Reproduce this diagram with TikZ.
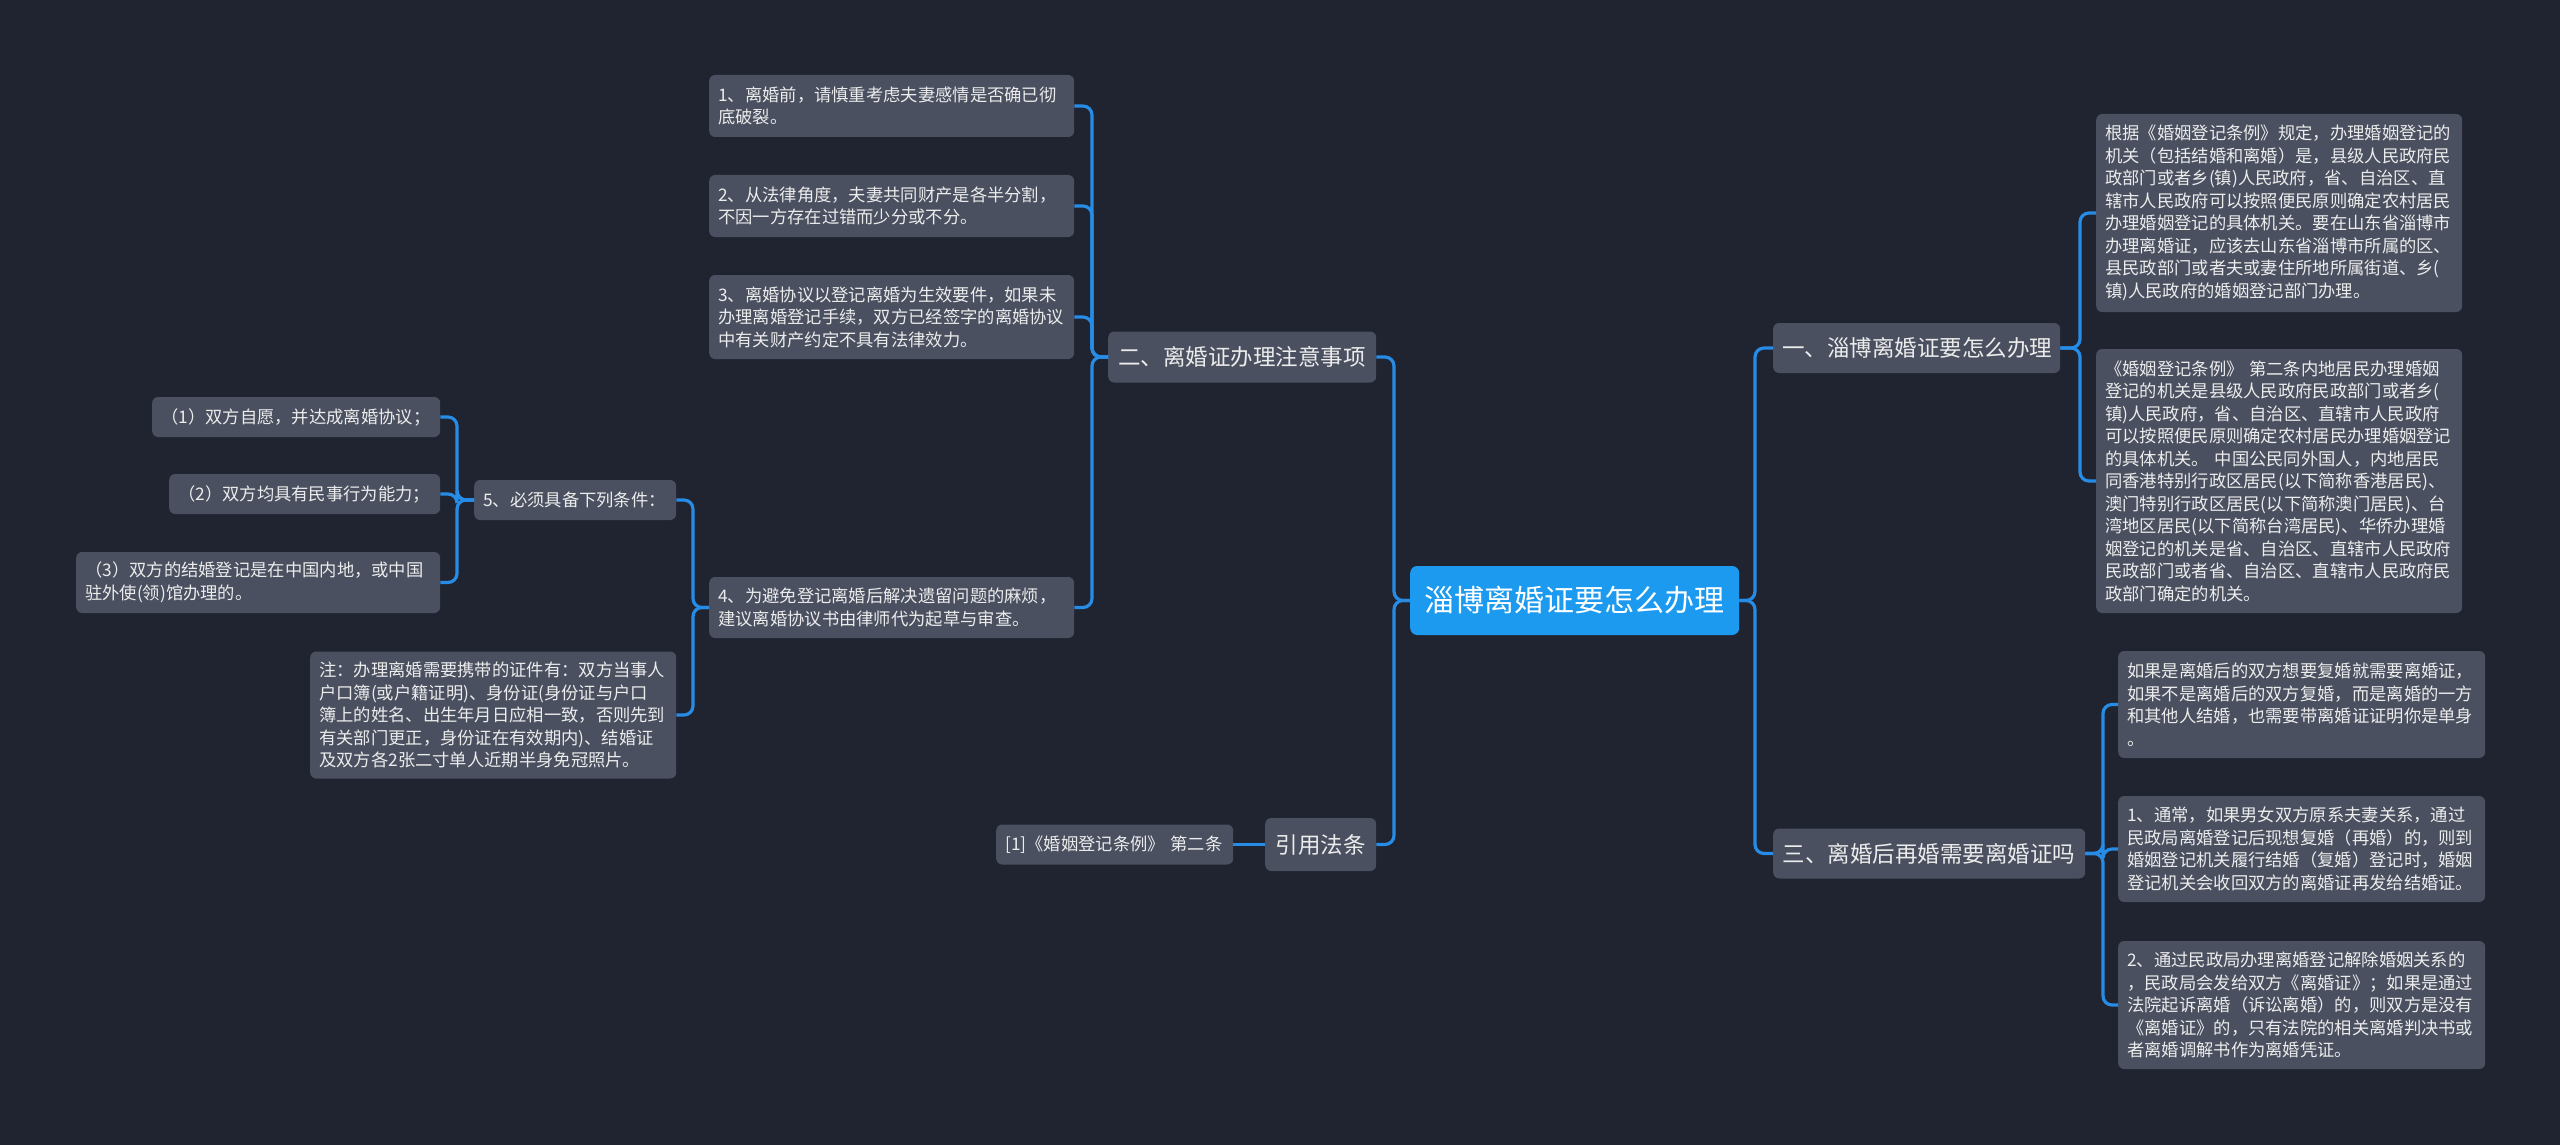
\documentclass[tikz,border=0pt]{standalone}
\usepackage{fontspec}
\setmainfont{Noto Sans CJK SC}
\definecolor{bgc}{RGB}{32,36,48}
\definecolor{nodec}{RGB}{74,80,96}
\definecolor{connc}{RGB}{38,140,230}
\definecolor{rootc}{RGB}{27,154,240}
\definecolor{txtc}{RGB}{236,236,236}
\newcommand\myfs{\fontsize{17.3}{22.5}\selectfont}
\newcommand\myfb{\fontsize{22.5}{27}\selectfont}
\newcommand\myfr{\fontsize{30}{36}\selectfont}
\begin{document}
\begin{tikzpicture}[x=1pt,y=-1pt,
  box/.style={fill=nodec, text=txtc, rounded corners=6pt, inner xsep=9pt, inner ysep=2pt, font=\myfs, align=left, anchor=west},
  bbox/.style={fill=nodec, text=txtc, rounded corners=6pt, inner xsep=9pt, inner ysep=2pt, font=\myfb, align=center, anchor=west, minimum height=51pt},
  rootbox/.style={fill=rootc, text=white, rounded corners=7pt, inner xsep=14.5pt, inner ysep=2pt, font=\myfr, align=center, anchor=west, minimum height=69pt},
  conn/.style={draw=connc, line width=3.2pt, rounded corners=9pt}
]
\fill[bgc] (0,0) rectangle (2560,1145);

% root
\node[rootbox, text width=300pt] (root) at (1410,600.5) {淄博离婚证要怎么办理};

% level 1
\node[bbox, text width=250pt] (b2) at (1108,357) {二、离婚证办理注意事项};
\node[bbox, text width=93pt, minimum height=53pt] (cite) at (1265,844.5) {引用法条};
\node[bbox, text width=269pt, minimum height=50pt] (b1) at (1773,348) {一、淄博离婚证要怎么办理};
\node[bbox, text width=294pt, minimum height=50pt] (b3) at (1773,853.5) {三、离婚后再婚需要离婚证吗};

% children of 二
\node[box, text width=347pt, minimum height=62pt] (c1) at (709,106) {1、离婚前，请慎重考虑夫妻感情是否确已彻\\底破裂。};
\node[box, text width=347pt, minimum height=62pt] (c2) at (709,206) {2、从法律角度，夫妻共同财产是各半分割，\\不因一方存在过错而少分或不分。};
\node[box, text width=347pt, minimum height=84pt] (c3) at (709,317) {3、离婚协议以登记离婚为生效要件，如果未\\办理离婚登记手续，双方已经签字的离婚协议\\中有关财产约定不具有法律效力。};
\node[box, text width=347pt, minimum height=61pt] (c4) at (709,607.5) {4、为避免登记离婚后解决遗留问题的麻烦，\\建议离婚协议书由律师代为起草与审查。};

% children of c4
\node[box, text width=184pt, minimum height=40pt] (c5) at (474,500) {5、必须具备下列条件：};
\node[box, text width=348pt, minimum height=127pt] (note) at (310,715) {注：办理离婚需要携带的证件有：双方当事人\\户口簿(或户籍证明)、身份证(身份证与户口\\簿上的姓名、出生年月日应相一致，否则先到\\有关部门更正，身份证在有效期内)、结婚证\\及双方各2张二寸单人近期半身免冠照片。};

% children of c5
\node[box, text width=270pt, minimum height=40pt] (s1) at (152,417) {（1）双方自愿，并达成离婚协议；};
\node[box, text width=253pt, minimum height=40pt] (s2) at (169,494) {（2）双方均具有民事行为能力；};
\node[box, text width=346pt, minimum height=61pt] (s3) at (76,582.5) {（3）双方的结婚登记是在中国内地，或中国\\驻外使(领)馆办理的。};

% child of 引用法条
\node[box, text width=219pt, minimum height=40pt] (ref) at (996,844.5) {[1]《婚姻登记条例》 第二条};

% children of 一
\node[box, text width=348pt, minimum height=198pt] (r1) at (2096,213) {根据《婚姻登记条例》规定，办理婚姻登记的\\机关（包括结婚和离婚）是，县级人民政府民\\政部门或者乡(镇)人民政府，省、自治区、直\\辖市人民政府可以按照便民原则确定农村居民\\办理婚姻登记的具体机关。要在山东省淄博市\\办理离婚证，应该去山东省淄博市所属的区、\\县民政部门或者夫或妻住所地所属街道、乡(\\镇)人民政府的婚姻登记部门办理。};
\node[box, text width=348pt, minimum height=264pt] (r2) at (2096,481) {《婚姻登记条例》 第二条内地居民办理婚姻\\登记的机关是县级人民政府民政部门或者乡(\\镇)人民政府，省、自治区、直辖市人民政府\\可以按照便民原则确定农村居民办理婚姻登记\\的具体机关。 中国公民同外国人，内地居民\\同香港特别行政区居民(以下简称香港居民)、\\澳门特别行政区居民(以下简称澳门居民)、台\\湾地区居民(以下简称台湾居民)、华侨办理婚\\姻登记的机关是省、自治区、直辖市人民政府\\民政部门或者省、自治区、直辖市人民政府民\\政部门确定的机关。};

% children of 三
\node[box, text width=349pt, minimum height=107pt] (r3) at (2118,704.5) {如果是离婚后的双方想要复婚就需要离婚证，\\如果不是离婚后的双方复婚，而是离婚的一方\\和其他人结婚，也需要带离婚证证明你是单身\\。};
\node[box, text width=349pt, minimum height=106pt] (r4) at (2118,849) {1、通常，如果男女双方原系夫妻关系，通过\\民政局离婚登记后现想复婚（再婚）的，则到\\婚姻登记机关履行结婚（复婚）登记时，婚姻\\登记机关会收回双方的离婚证再发给结婚证。};
\node[box, text width=349pt, minimum height=128pt] (r5) at (2118,1005) {2、通过民政局办理离婚登记解除婚姻关系的\\，民政局会发给双方《离婚证》；如果是通过\\法院起诉离婚（诉讼离婚）的，则双方是没有\\《离婚证》的，只有法院的相关离婚判决书或\\者离婚调解书作为离婚凭证。};

% trunk coordinates
\coordinate (tL) at (1394,0);
\coordinate (tR) at (1755,0);
\coordinate (t2) at (1092,0);
\coordinate (t4) at (693,0);
\coordinate (t5) at (457,0);
\coordinate (t1) at (2080,0);
\coordinate (t3) at (2103,0);

% connectors
\draw[conn] (root.west) -- (root.west -| tL) |- (b2.east);
\draw[conn] (root.west) -- (root.west -| tL) |- (cite.east);
\draw[conn] (root.east) -- (root.east -| tR) |- (b1.west);
\draw[conn] (root.east) -- (root.east -| tR) |- (b3.west);

\foreach \c in {c1,c2,c3,c4}
  \draw[conn] (b2.west) -- (b2.west -| t2) |- (\c.east);
\foreach \c in {c5,note}
  \draw[conn] (c4.west) -- (c4.west -| t4) |- (\c.east);
\foreach \c in {s1,s2,s3}
  \draw[conn] (c5.west) -- (c5.west -| t5) |- (\c.east);
\draw[conn] (cite.west) -- (ref.east);
\foreach \c in {r1,r2}
  \draw[conn] (b1.east) -- (b1.east -| t1) |- (\c.west);
\foreach \c in {r3,r4,r5}
  \draw[conn] (b3.east) -- (b3.east -| t3) |- (\c.west);
\end{tikzpicture}
\end{document}
